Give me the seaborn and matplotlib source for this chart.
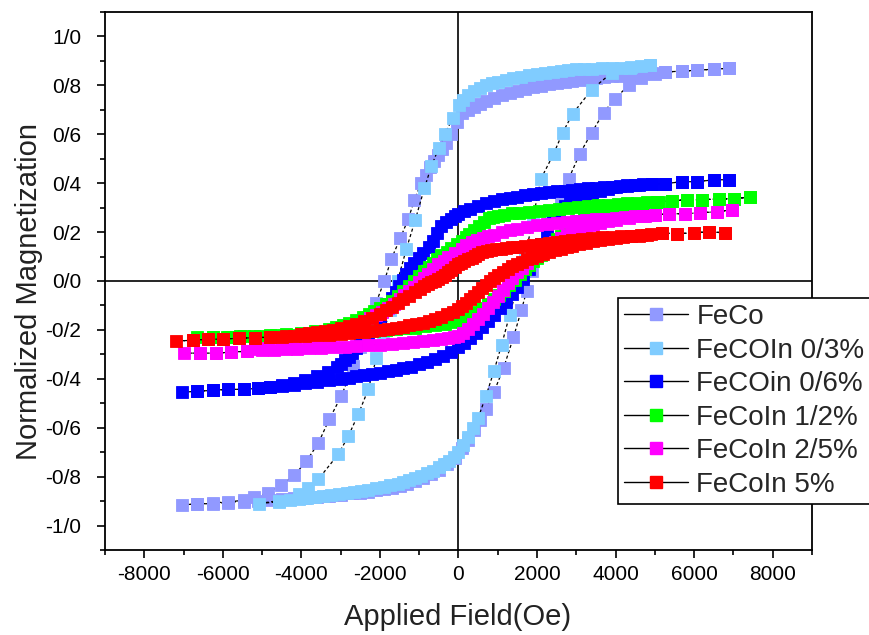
import matplotlib
matplotlib.use('Agg')
import matplotlib.pyplot as plt
from matplotlib.lines import Line2D
from matplotlib.ticker import MultipleLocator, FixedLocator
import seaborn as sns

# ---------------- data ----------------
series_names = ['FeCo', 'FeCOIn 0/3%', 'FeCOin 0/6%', 'FeCoIn 1/2%', 'FeCoIn 2/5%', 'FeCoIn 5%']
series_colors = ['#9199FF', '#80CCFF', '#0000FF', '#00FF00', '#FF00FF', '#FF0000']

xticks = [-8000, -6000, -4000, -2000, 0, 2000, 4000, 6000, 8000]
xticklabels = ['-8000', '-6000', '-4000', '-2000', '0', '2000', '4000', '6000', '8000']
yticks = [-1.0, -0.8, -0.6, -0.4, -0.2, 0.0, 0.2, 0.4, 0.6, 0.8, 1.0]
yticklabels = ['-1/0', '-0/8', '-0/6', '-0/4', '-0/2', '0/0', '0/2', '0/4', '0/6', '0/8', '1/0']

# each branch: (applied field Oe, normalized magnetization)
# FeCo
feco_desc = [(6890, .870), (6505, .866), (6070, .862), (5690, .858), (5255, .855), (4920, .850),
             (4700, .848), (4500, .845), (4300, .842), (4100, .840), (3900, .837), (3700, .834),
             (3500, .830), (3300, .826), (3100, .822), (2900, .818), (2700, .813), (2500, .809),
             (2300, .804), (2100, .798), (1900, .792), (1700, .785), (1500, .777), (1300, .769),
             (1100, .760), (900, .750), (700, .738), (550, .725), (400, .712), (250, .700), (100, .685),
             (-50, .650), (-200, .600), (-306, .566), (-420, .540), (-520, .515), (-620, .490),
             (-720, .465), (-830, .435), (-944, .402), (-1122, .332), (-1276, .254), (-1480, .176),
             (-1709, .090), (-1888, .000), (-2100, -.090), (-2300, -.180), (-2500, -.270),
             (-2679, -.348), (-2985, -.471), (-3291, -.566), (-3571, -.664), (-3878, -.738),
             (-4184, -.795), (-4515, -.835), (-4850, -.865), (-5200, -.885), (-5460, -.897),
             (-5870, -.903), (-6250, -.908), (-6650, -.912), (-7040, -.915)]
feco_asc = [(-6650, -.912), (-6250, -.910), (-5870, -.906), (-5460, -.902), (-5100, -.898),
            (-4800, -.895), (-4500, -.892), (-4200, -.889), (-3900, -.886), (-3600, -.882),
            (-3300, -.878), (-3000, -.874), (-2700, -.869), (-2500, -.865), (-2300, -.861),
            (-2100, -.856), (-1900, -.851), (-1700, -.845), (-1500, -.838), (-1300, -.829),
            (-1100, -.818), (-900, -.805), (-700, -.790), (-500, -.772), (-300, -.750), (-100, -.722),
            (100, -.685), (250, -.650), (400, -.610), (550, -.570), (700, -.525), (900, -.455),
            (1150, -.355), (1400, -.230), (1600, -.120), (1735, -.041), (1862, .041), (2100, .150),
            (2350, .250), (2600, .340), (2806, .418), (3087, .520), (3393, .607), (3699, .689),
            (3980, .746), (4337, .800), (4650, .830), (5000, .845), (5255, .855), (5690, .858),
            (6070, .862), (6505, .866), (6890, .870)]

# FeCOIn 0/3%
lb_desc = [(4872, .885), (4650, .880), (4400, .877), (4150, .873), (3900, .870), (3650, .869),
           (3400, .868), (3200, .866), (3000, .865), (2800, .862), (2600, .859), (2400, .855),
           (2200, .851), (2000, .846), (1800, .841), (1600, .836), (1400, .830), (1200, .823),
           (1000, .815), (850, .808), (700, .800), (550, .790), (400, .777), (250, .760), (120, .740),
           (20, .718), (-150, .665), (-350, .600), (-500, .545), (-689, .470), (-867, .380),
           (-1100, .250), (-1327, .131), (-1550, .000), (-1750, -.120), (-1920, -.220), (-2092, -.316),
           (-2296, -.443), (-2551, -.545), (-2806, -.635), (-3061, -.709), (-3571, -.811),
           (-3827, -.848), (-4056, -.873), (-4566, -.898), (-5077, -.910)]
lb_asc = [(-4566, -.903), (-4300, -.897), (-4056, -.892), (-3850, -.888), (-3650, -.884),
          (-3450, -.880), (-3250, -.877), (-3050, -.873), (-2850, -.868), (-2650, -.863),
          (-2474, -.858), (-2300, -.853), (-2100, -.848), (-1900, -.842), (-1750, -.836),
          (-1550, -.829), (-1400, -.822), (-1250, -.814), (-1100, -.806), (-950, -.797), (-800, -.787),
          (-650, -.775), (-500, -.762), (-375, -.749), (-250, -.735), (-125, -.718), (0, -.700),
          (125, -.672), (250, -.640), (375, -.600), (500, -.560), (700, -.470), (900, -.370),
          (1100, -.260), (1300, -.140), (1500, -.020), (1700, .100), (1900, .260), (2100, .418),
          (2423, .520), (2653, .607), (2908, .684), (3393, .783), (3903, .852), (4362, .869),
          (4872, .885)]

# FeCOin 0/6%
bl_desc = [(6890, .414), (6505, .414), (6070, .406), (5690, .406), (5255, .398), (4920, .397),
           (4700, .395), (4500, .393), (4300, .391), (4100, .389), (3900, .386), (3700, .384),
           (3500, .381), (3300, .379), (3100, .376), (2900, .373), (2700, .370), (2500, .367),
           (2300, .363), (2100, .359), (1900, .355), (1700, .350), (1500, .345), (1300, .340),
           (1100, .334), (900, .326), (700, .318), (500, .308), (300, .296), (150, .286), (0, .275),
           (-100, .266), (-200, .255), (-320, .242), (-434, .225), (-540, .196), (-638, .164),
           (-760, .140), (-893, .115), (-1010, .095), (-1122, .074), (-1230, .052), (-1327, .029),
           (-1420, .005), (-1505, -.020), (-1600, -.045), (-1700, -.070), (-1800, -.095),
           (-1900, -.120), (-2000, -.145), (-2100, -.170), (-2200, -.193), (-2300, -.215),
           (-2400, -.235), (-2500, -.255), (-2600, -.275), (-2700, -.295), (-2800, -.310),
           (-2900, -.325), (-3000, -.338), (-3100, -.350), (-3316, -.372), (-3600, -.390),
           (-3900, -.405), (-4184, -.418), (-4500, -.426), (-4800, -.433), (-5102, -.439),
           (-5459, -.443), (-5867, -.443), (-6250, -.447), (-6658, -.451), (-7040, -.455)]
bl_asc = [(-6658, -.451), (-6250, -.447), (-5867, -.443), (-5459, -.443), (-5102, -.439),
          (-4800, -.435), (-4500, -.430), (-4200, -.424), (-3900, -.418), (-3600, -.412),
          (-3300, -.406), (-3000, -.400), (-2800, -.395), (-2600, -.390), (-2400, -.385),
          (-2200, -.380), (-2000, -.375), (-1800, -.369), (-1600, -.363), (-1400, -.357),
          (-1200, -.350), (-1000, -.341), (-800, -.332), (-600, -.320), (-400, -.306), (-200, -.290),
          (0, -.270), (150, -.255), (300, -.235), (450, -.213), (600, -.190), (750, -.165),
          (900, -.140), (1050, -.112), (1200, -.085), (1350, -.055), (1500, -.025), (1650, .010),
          (1800, .050), (1950, .100), (2100, .150), (2250, .195), (2400, .240), (2550, .280),
          (2700, .305), (2850, .322), (3000, .336), (3200, .350), (3400, .361), (3600, .370),
          (3800, .377), (4000, .383), (4300, .389), (4600, .393), (4920, .397), (5255, .398),
          (5690, .406), (6070, .406), (6505, .414), (6890, .414)]

# FeCoIn 1/2%
gr_desc = [(7423, .344), (7015, .336), (6633, .336), (6199, .332), (5816, .332), (5434, .328),
           (5100, .325), (4800, .322), (4550, .320), (4300, .318), (4050, .315), (3800, .312),
           (3550, .309), (3300, .306), (3050, .303), (2800, .300), (2550, .296), (2300, .292),
           (2050, .288), (1800, .284), (1550, .280), (1350, .276), (1150, .271), (1000, .267),
           (880, .263), (765, .256), (640, .242), (510, .225), (400, .210), (280, .193), (180, .179),
           (77, .164), (-50, .150), (-179, .135), (-300, .120), (-434, .105), (-540, .090),
           (-638, .075), (-750, .058), (-867, .040), (-1000, .020), (-1122, .000), (-1260, -.020),
           (-1400, -.040), (-1550, -.060), (-1700, -.080), (-1850, -.095), (-2000, -.110),
           (-2140, -.123), (-2270, -.135), (-2430, -.148), (-2600, -.160), (-2780, -.170),
           (-2950, -.180), (-3120, -.188), (-3300, -.195), (-3650, -.205), (-4000, -.212),
           (-4400, -.217), (-4800, -.221), (-5200, -.224), (-5550, -.226), (-5900, -.228),
           (-6250, -.229), (-6650, -.230)]
gr_asc = [(-6250, -.229), (-5850, -.228), (-5450, -.226), (-5050, -.224), (-4650, -.222),
          (-4250, -.220), (-3850, -.218), (-3450, -.215), (-3050, -.212), (-2750, -.210),
          (-2450, -.207), (-2150, -.204), (-1850, -.200), (-1600, -.197), (-1350, -.194),
          (-1100, -.191), (-850, -.186), (-600, -.181), (-350, -.175), (-175, -.169), (0, -.162),
          (150, -.152), (300, -.140), (450, -.126), (600, -.110), (750, -.093), (900, -.075),
          (1025, -.058), (1150, -.040), (1290, -.018), (1430, .005), (1565, .028), (1700, .050),
          (1800, .065), (1900, .080), (2000, .094), (2100, .108), (2200, .124), (2300, .140),
          (2400, .155), (2500, .170), (2600, .185), (2700, .200), (2800, .214), (2900, .228),
          (3050, .245), (3200, .260), (3350, .271), (3500, .280), (3650, .287), (3800, .293),
          (3950, .298), (4100, .303), (4400, .310), (4700, .316), (5050, .324), (5434, .328),
          (5816, .332), (6199, .332), (6633, .336), (7015, .336), (7423, .344)]

# FeCoIn 2/5%
mg_desc = [(6964, .291), (6582, .283), (6148, .279), (5765, .275), (5357, .275), (5000, .270),
           (4750, .267), (4500, .264), (4250, .261), (4000, .258), (3750, .255), (3500, .252),
           (3250, .249), (3000, .246), (2750, .242), (2500, .237), (2250, .232), (2000, .227),
           (1750, .221), (1500, .213), (1300, .207), (1100, .199), (900, .190), (750, .183),
           (620, .177), (480, .169), (332, .160), (200, .147), (77, .132), (-90, .115), (-255, .098),
           (-380, .083), (-510, .068), (-640, .050), (-765, .030), (-880, .013), (-1000, -.005),
           (-1125, -.023), (-1250, -.040), (-1375, -.058), (-1500, -.075), (-1650, -.093),
           (-1800, -.110), (-1950, -.125), (-2100, -.140), (-2250, -.153), (-2400, -.165),
           (-2575, -.178), (-2750, -.190), (-2925, -.200), (-3100, -.210), (-3275, -.219),
           (-3450, -.228), (-3625, -.235), (-3800, -.242), (-4150, -.254), (-4500, -.264),
           (-4850, -.272), (-5100, -.280), (-5383, -.287), (-5790, -.291), (-6173, -.295),
           (-6582, -.295), (-6990, -.295)]
mg_asc = [(-6582, -.295), (-6173, -.295), (-5790, -.291), (-5383, -.287), (-5000, -.284),
          (-4700, -.282), (-4400, -.280), (-4100, -.277), (-3800, -.275), (-3500, -.273),
          (-3200, -.270), (-2900, -.268), (-2600, -.266), (-2300, -.263), (-2000, -.260),
          (-1700, -.256), (-1400, -.252), (-1150, -.248), (-900, -.244), (-650, -.240), (-450, -.237),
          (-255, -.233), (-125, -.230), (0, -.225), (125, -.211), (250, -.195), (375, -.176),
          (500, -.155), (625, -.133), (750, -.110), (875, -.085), (1000, -.060), (1125, -.035),
          (1250, -.010), (1375, .013), (1500, .035), (1625, .055), (1750, .075), (1875, .093),
          (2000, .110), (2150, .128), (2300, .145), (2450, .160), (2600, .175), (2750, .188),
          (2900, .200), (3075, .212), (3250, .222), (3425, .230), (3600, .238), (3800, .244),
          (4000, .250), (4350, .258), (4700, .265), (5000, .270), (5357, .275), (5765, .275),
          (6148, .279), (6582, .283), (6964, .291)]

# FeCoIn 5%
rd_desc = [(6786, .197), (6378, .201), (5995, .197), (5561, .193), (5179, .197), (4900, .192),
           (4650, .189), (4400, .186), (4150, .184), (3900, .181), (3650, .178), (3400, .175),
           (3150, .171), (2900, .167), (2700, .163), (2500, .159), (2300, .155), (2100, .151),
           (1900, .147), (1700, .143), (1500, .140), (1350, .137), (1200, .135), (1075, .132),
           (950, .130), (830, .127), (714, .123), (600, .117), (500, .110), (415, .103), (332, .095),
           (240, .088), (150, .080), (75, .075), (0, .070), (-90, .058), (-179, .045), (-265, .035),
           (-350, .025), (-430, .016), (-510, .008), (-600, .001), (-700, -.006), (-780, -.013),
           (-867, -.020), (-980, -.032), (-1100, -.045), (-1250, -.060), (-1400, -.075),
           (-1550, -.090), (-1700, -.105), (-1850, -.120), (-2000, -.135), (-2200, -.150),
           (-2400, -.165), (-2600, -.176), (-2800, -.185), (-3000, -.193), (-3200, -.200),
           (-3400, -.205), (-3600, -.210), (-3800, -.214), (-4000, -.218), (-4400, -.224),
           (-4800, -.229), (-5179, -.232), (-5587, -.234), (-5995, -.238), (-6378, -.238),
           (-6760, -.242), (-7194, -.246)]
rd_asc = [(-6760, -.242), (-6378, -.238), (-5995, -.238), (-5587, -.234), (-5179, -.232),
          (-4800, -.230), (-4500, -.228), (-4200, -.226), (-3900, -.224), (-3600, -.222),
          (-3300, -.219), (-3000, -.216), (-2800, -.213), (-2600, -.210), (-2400, -.207),
          (-2200, -.204), (-2000, -.200), (-1800, -.196), (-1600, -.192), (-1425, -.187),
          (-1250, -.182), (-1075, -.176), (-900, -.170), (-750, -.163), (-600, -.155), (-450, -.146),
          (-300, -.137), (-150, -.127), (0, -.115), (100, -.103), (200, -.090), (300, -.075),
          (400, -.060), (500, -.045), (600, -.030), (700, -.015), (800, .000), (900, .013),
          (1000, .025), (1125, .038), (1250, .050), (1375, .060), (1500, .070), (1625, .079),
          (1750, .088), (1875, .096), (2000, .103), (2150, .111), (2300, .118), (2450, .125),
          (2600, .132), (2750, .139), (2900, .145), (3075, .151), (3250, .157), (3425, .162),
          (3600, .167), (3800, .171), (4000, .175), (4200, .179), (4400, .182), (4600, .185),
          (4800, .188), (5179, .197), (5561, .193), (5995, .197), (6378, .201), (6786, .197)]

loops = [feco_desc + feco_asc, lb_desc + lb_asc, bl_desc + bl_asc,
         gr_desc + gr_asc, mg_desc + mg_asc, rd_desc + rd_asc]

# ---------------- plotting ----------------
sns.set_theme(style='ticks')
plt.rcParams['font.family'] = ['Liberation Sans', 'DejaVu Sans']

fig = plt.figure(figsize=(8.69, 6.35), dpi=100)
ax = fig.add_axes([0.1208, 0.1339, 0.8136, 0.8472])

ax.axhline(0, color='black', linewidth=1.2, zorder=1)
ax.axvline(0, color='black', linewidth=1.2, zorder=1)

for i, (loop, col) in enumerate(zip(loops, series_colors)):
    hh = [p[0] for p in loop]
    mm = [p[1] for p in loop]
    sns.lineplot(x=hh, y=mm, sort=False, estimator=None, ax=ax, color='black',
                 linewidth=0.9, linestyle=(0, (2.5, 2.0)), marker='s', markersize=9,
                 markerfacecolor=col, markeredgecolor=col, markeredgewidth=0.6,
                 zorder=2 + i)

ax.set_xlim(-9000, 9000)
ax.set_ylim(-1.1, 1.1)
ax.xaxis.set_major_locator(FixedLocator(xticks))
ax.set_xticklabels(xticklabels)
ax.yaxis.set_major_locator(FixedLocator(yticks))
ax.set_yticklabels(yticklabels)
ax.xaxis.set_minor_locator(MultipleLocator(1000))
ax.yaxis.set_minor_locator(MultipleLocator(0.1))
ax.tick_params(axis='both', which='both', direction='out', top=False, right=False,
               colors='black', width=1.2)
ax.tick_params(axis='both', which='major', length=6, labelsize=15)
ax.tick_params(axis='x', which='major', pad=5)
ax.tick_params(axis='y', which='major', pad=11)
ax.tick_params(axis='both', which='minor', length=3.5)

for s in ax.spines.values():
    s.set_linewidth(1.3)
    s.set_color('black')

ax.set_xlabel('Applied Field(Oe)', fontsize=21, color='#222222')
ax.set_ylabel('Normalized Magnetization', fontsize=21, color='#222222')
ax.xaxis.set_label_coords(0.4986, -0.098)
ax.yaxis.set_label_coords(-0.088, 0.48)

handles = [Line2D([], [], color='black', linewidth=1.0, marker='s', markersize=9,
                  markerfacecolor=c, markeredgecolor=c) for c in series_colors]
leg = ax.legend(handles, series_names, loc='upper left', bbox_to_anchor=(0.711, 0.531),
                bbox_transform=fig.transFigure, fontsize=20, frameon=True, fancybox=False,
                edgecolor='black', framealpha=1, borderpad=0.23, labelspacing=0.27,
                handlelength=2.3, handletextpad=0.3, borderaxespad=0.0)
leg.get_frame().set_linewidth(1.2)
leg.set_zorder(20)

fig.savefig('out.png', dpi=100)
